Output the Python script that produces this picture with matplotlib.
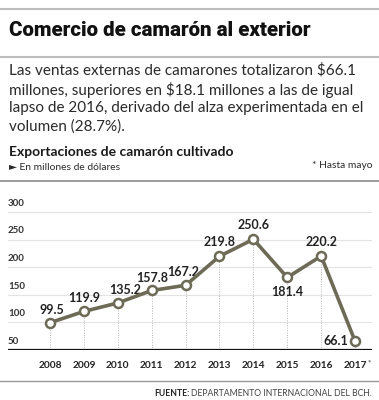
import matplotlib.pyplot as plt
from matplotlib.lines import Line2D

# Datos
years = [2008, 2009, 2010, 2011, 2012, 2013, 2014, 2015, 2016, 2017]
year_labels = ["2008", "2009", "2010", "2011", "2012", "2013", "2014", "2015", "2016", "2017"]
values = [99.5, 119.9, 135.2, 157.8, 167.2, 219.8, 250.6, 181.4, 220.2, 66.1]
value_labels = ["99.5", "119.9", "135.2", "157.8", "167.2", "219.8", "250.6", "181.4", "220.2", "66.1"]
y_ticks = [50, 100, 150, 200, 250, 300]

# posicion de la etiqueta respecto al punto (dx, dy en puntos, ha, va)
label_pos = [(1, 5, "center", "bottom"), (0, 5, "center", "bottom"), (5, 5, "center", "bottom"),
             (0, 5, "center", "bottom"), (-2, 5, "center", "bottom"), (0, 6, "center", "bottom"),
             (0, 6, "center", "bottom"), (0, -6, "center", "top"), (0, 6, "center", "bottom"),
             (-5, 0, "right", "center")]

W, H = 379, 400
line_col = "#6d6b56"
FAM = ["Lato", "DejaVu Sans"]

fig = plt.figure(figsize=(W / 100, H / 100), dpi=100)
fig.patch.set_facecolor("white")

def fy(py):
    return 1 - py / H

def fx(px):
    return px / W

# lineas de separacion
for py, col, lw in [(9, "#bdbdbd", 1.5), (57, "#bdbdbd", 1.5), (181, "#8a8a8a", 1.2), (381, "#9a9a9a", 1.0)]:
    fig.add_artist(Line2D([0, 1], [fy(py), fy(py)], color=col, lw=lw, transform=fig.transFigure))

fig.text(fx(9), fy(31), "Comercio de camarón al exterior", fontsize=14.8, fontweight="black",
         family=["Roboto", "DejaVu Sans"], va="center", ha="left", color="#111111")

parrafo = ("Las ventas externas de camarones totalizaron $66.1\n"
           "millones, superiores en $18.1 millones a las de igual\n"
           "lapso de 2016, derivado del alza experimentada en el\n"
           "volumen (28.7%).")
fig.text(fx(9), fy(63), parrafo, fontsize=11, family=FAM, va="top", ha="left",
         color="#2a2a2a", linespacing=1.33)

fig.text(fx(9), fy(152), "Exportaciones de camarón cultivado", fontsize=10, fontweight="bold",
         family=FAM, va="center", ha="left", color="#1a1a1a")
fig.text(fx(9), fy(168), "► En millones de dólares", fontsize=7.4, family=FAM,
         va="center", ha="left", color="#2a2a2a")
fig.text(fx(372), fy(166), "* Hasta mayo", fontsize=7.4, family=FAM,
         va="center", ha="right", color="#2a2a2a")

t = fig.text(fx(372), fy(393), "DEPARTAMENTO INTERNACIONAL DEL BCH.", fontsize=6.2, family=FAM,
             va="center", ha="right", color="#444444")
fig.canvas.draw()
bb = t.get_window_extent()
fig.text(bb.x0 / W - 0.004, fy(393), "FUENTE:", fontsize=6.2, fontweight="bold", family=FAM,
         va="center", ha="right", color="#222222")

# Grafico
ax = fig.add_axes([fx(8), fy(350), fx(372) - fx(8), fy(212) - fy(350)])
ax.set_xlim(2006.76, 2017.5)
ax.set_ylim(50, 300)
ax.axis("off")

for v in y_ticks:
    if v > 50:
        ax.axhline(v, color="#e3e3e3", lw=0.8, zorder=0)
    ax.annotate(str(v), (2006.76, v), xytext=(0, 3), textcoords="offset points", fontsize=7,
                fontweight="bold", family=FAM, ha="left", va="bottom", color="#333333")
ax.axhline(50, color="#111111", lw=1.6, zorder=3)

ax.vlines(years, 50, values, colors="#b5b5b5", lw=0.7, linestyles=(0, (1, 1.5)), zorder=1)
ax.plot(years, values, color=line_col, lw=2.6, marker="o", ms=6.5, mfc="white",
        mec=line_col, mew=1.8, zorder=4, clip_on=False)

for x, v, lab, (dx, dy, ha, va) in zip(years, values, value_labels, label_pos):
    ax.annotate(lab, (x, v), xytext=(dx, dy), textcoords="offset points", ha=ha, va=va,
                fontsize=9, fontweight="bold", family=FAM, color="#222222")

for x, lab in zip(years, year_labels):
    ax.annotate(lab, (x, 50), xytext=(0, -11), textcoords="offset points", ha="center",
                va="center", fontsize=7.3, fontweight="bold", family=FAM, color="#222222",
                annotation_clip=False)
ax.annotate("*", (2017, 50), xytext=(10.5, -9), textcoords="offset points", ha="center",
            va="center", fontsize=5.5, family=FAM, color="#222222", annotation_clip=False)

fig.savefig("out.png", dpi=100)
